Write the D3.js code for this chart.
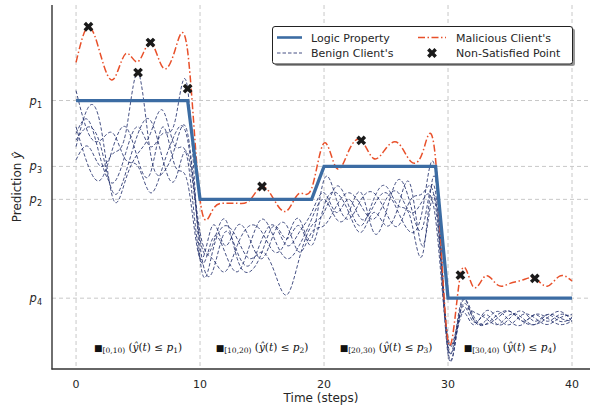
<!DOCTYPE html>
<html><head><meta charset="utf-8">
<script src="https://cdn.jsdelivr.net/npm/d3@7"></script>
<style>
body{margin:0;background:#fff;}
svg{display:block;font-family:"DejaVu Sans",sans-serif;}
</style></head>
<body>
<svg id="chart" width="590" height="406"></svg>
<script>
const timeSteps = [0,1,2,3,4,5,6,7,8,9,10,11,12,13,14,15,16,17,18,19,20,21,22,23,24,25,26,27,28,29,30,31,32,33,34,35,36,37,38,39,40];
const logicValues = [0.8,0.8,0.8,0.8,0.8,0.8,0.8,0.8,0.8,0.8, 0.5,0.5,0.5,0.5,0.5,0.5,0.5,0.5,0.5,0.5, 0.6,0.6,0.6,0.6,0.6,0.6,0.6,0.6,0.6,0.6, 0.2,0.2,0.2,0.2,0.2,0.2,0.2,0.2,0.2,0.2,0.2];
const maliciousValues = [0.916,1.024,0.936,0.864,0.942,0.918,0.976,0.90,0.955,0.95, 0.50,0.467,0.488,0.488,0.497,0.539,0.497,0.465,0.518,0.533, 0.671,0.595,0.648,0.679,0.624,0.655,0.67,0.615,0.648,0.62, 0.07,0.27,0.236,0.267,0.24,0.245,0.255,0.26,0.236,0.267,0.252];
const benign1 = [0.62,0.66,0.60,0.64,0.70,0.885,0.64,0.58,0.66,0.70, 0.36,0.28,0.40,0.34,0.30,0.38,0.42,0.36,0.40,0.46, 0.52,0.46,0.50,0.44,0.48,0.52,0.46,0.40,0.48,0.58, 0.06,0.16,0.13,0.15,0.12,0.14,0.16,0.13,0.15,0.13,0.14];
const benign2 = [0.70,0.74,0.62,0.55,0.64,0.72,0.66,0.70,0.74,0.836, 0.32,0.34,0.42,0.38,0.32,0.34,0.28,0.21,0.32,0.42, 0.46,0.54,0.48,0.42,0.50,0.54,0.48,0.44,0.34,0.56, 0.04,0.17,0.15,0.12,0.14,0.16,0.13,0.15,0.14,0.12,0.13];
const benign3 = [0.83,0.70,0.68,0.70,0.62,0.60,0.52,0.60,0.70,0.68, 0.40,0.32,0.28,0.36,0.42,0.40,0.34,0.38,0.44,0.38, 0.56,0.50,0.44,0.50,0.52,0.46,0.42,0.50,0.52,0.48, 0.08,0.14,0.16,0.14,0.12,0.15,0.14,0.12,0.15,0.14,0.13];
const benign4 = [0.66,0.78,0.72,0.50,0.56,0.64,0.70,0.77,0.66,0.62, 0.32,0.38,0.34,0.28,0.36,0.44,0.38,0.32,0.36,0.44, 0.50,0.44,0.46,0.52,0.40,0.46,0.56,0.48,0.42,0.52, 0.05,0.18,0.14,0.13,0.16,0.13,0.12,0.15,0.13,0.15,0.14];
const benign5 = [0.72,0.60,0.56,0.66,0.72,0.62,0.58,0.72,0.60,0.55, 0.32,0.42,0.36,0.42,0.38,0.32,0.40,0.42,0.34,0.40, 0.42,0.48,0.52,0.48,0.44,0.50,0.52,0.46,0.50,0.44, 0.07,0.15,0.12,0.16,0.14,0.12,0.15,0.14,0.12,0.14,0.15];
const benign6 = [0.68,0.72,0.66,0.52,0.58,0.70,0.74,0.62,0.56,0.64, 0.38,0.36,0.44,0.32,0.28,0.34,0.42,0.38,0.42,0.36, 0.48,0.52,0.46,0.40,0.46,0.42,0.48,0.54,0.36,0.50, 0.03,0.16,0.14,0.12,0.15,0.16,0.13,0.12,0.14,0.16,0.13];
const violationT = [1,5,6,9,15,23,31,37];
const violationY = [1.024,0.885,0.976,0.836,0.539,0.679,0.27,0.26];
const xTickValues = [0,10,20,30,40];
const yTickValues = [0.8,0.6,0.5,0.2];
const yTickSubs = ["1","3","2","4"];
const segmentStarts = [0,10,20,30];
const segmentLabels = ["[0,10)","[10,20)","[20,30)","[30,40)"];
const segmentProps = ["1","2","3","4"];
const legendLabels = ["Logic Property","Benign Client's","Malicious Client's","Non-Satisfied Point"];

const svg = d3.select("#chart");
const x = d3.scaleLinear().domain([-1.94, 41.37]).range([52, 589]);
const y = d3.scaleLinear().domain([-0.015, 1.09]).range([369, 5]);

const gridColor = "#c8c8c8";
svg.append("g").selectAll("line").data(xTickValues).join("line")
  .attr("x1", d => x(d)).attr("x2", d => x(d)).attr("y1", 5).attr("y2", 369)
  .attr("stroke", gridColor).attr("stroke-width", 1).attr("stroke-dasharray", "4,3");
svg.append("g").selectAll("line").data(yTickValues).join("line")
  .attr("x1", 52).attr("x2", 589).attr("y1", d => y(d)).attr("y2", d => y(d))
  .attr("stroke", gridColor).attr("stroke-width", 1).attr("stroke-dasharray", "4,3");

const benignAll = [benign1, benign2, benign3, benign4, benign5, benign6];
const lineCurve = d3.line().x((d,i) => x(timeSteps[i])).y(d => y(d)).curve(d3.curveNatural);
const lineLin = d3.line().x((d,i) => x(timeSteps[i])).y(d => y(d));

svg.append("defs").append("clipPath").attr("id","clip").append("rect")
  .attr("x",52).attr("y",0).attr("width",538).attr("height",369);
const plot = svg.append("g").attr("clip-path","url(#clip)");

plot.selectAll("path.benign").data(benignAll).join("path")
  .attr("class","benign").attr("d", d => lineCurve(d))
  .attr("fill","none").attr("stroke","#26336e").attr("stroke-opacity",0.85)
  .attr("stroke-width",1).attr("stroke-dasharray","3.5,2");

plot.append("path").attr("d", lineCurve(maliciousValues))
  .attr("fill","none").attr("stroke","#e8502a").attr("stroke-width",1.5)
  .attr("stroke-dasharray","7,2.5,1.5,2.5");

plot.append("path").attr("d", lineLin(logicValues))
  .attr("fill","none").attr("stroke","#3c6ca3").attr("stroke-width",3.3);

const xSym = d3.symbol().type(d3.symbolCross).size(60);
plot.selectAll("path.viol").data(violationT).join("path")
  .attr("class","viol").attr("d", xSym)
  .attr("transform", (d,i) => `translate(${x(d)},${y(violationY[i])}) rotate(45)`)
  .attr("fill","#1a1a1a");

svg.append("line").attr("x1",52).attr("x2",52).attr("y1",5).attr("y2",369.5).attr("stroke","#333").attr("stroke-width",1.4);
svg.append("line").attr("x1",51.5).attr("x2",590).attr("y1",369).attr("y2",369).attr("stroke","#333").attr("stroke-width",1.4);

svg.append("g").selectAll("text").data(xTickValues).join("text")
  .attr("x", d => x(d)).attr("y", 388).attr("text-anchor","middle")
  .attr("font-size",11).attr("fill","#262626").text(d => d);
svg.append("text").attr("x", 321).attr("y", 402).attr("text-anchor","middle")
  .attr("font-size",12).attr("fill","#262626").text("Time (steps)");

const yt = svg.append("g").selectAll("text").data(yTickValues).join("text")
  .attr("x", 42).attr("y", d => y(d) + 4).attr("text-anchor","end")
  .attr("font-size",11.5).attr("fill","#262626");
yt.append("tspan").attr("font-style","italic").text("p");
yt.append("tspan").attr("font-size",8).attr("dy",3).text((d,i) => yTickSubs[i]);

const ylab = svg.append("text").attr("transform","translate(21,187) rotate(-90)")
  .attr("text-anchor","middle").attr("font-size",12).attr("fill","#262626");
ylab.append("tspan").text("Prediction ");
ylab.append("tspan").attr("font-style","italic").text("ŷ");

const ann = svg.append("g").selectAll("text").data(segmentStarts).join("text")
  .attr("x", d => x(d + 5)).attr("y", 351).attr("text-anchor","middle")
  .attr("font-family","'DejaVu Serif', serif").attr("font-size",10.5).attr("fill","#111");
ann.append("tspan").attr("font-family","'DejaVu Sans'").attr("font-size",9).text("■");
ann.append("tspan").attr("font-size",7.5).attr("dy",2).text((d,i) => segmentLabels[i]);
ann.append("tspan").attr("dy",-2).text(" (");
ann.append("tspan").attr("font-style","italic").text("ŷ");
ann.append("tspan").text("(");
ann.append("tspan").attr("font-style","italic").text("t");
ann.append("tspan").text(") ≤ ");
ann.append("tspan").attr("font-style","italic").text("p");
ann.append("tspan").attr("font-size",7.5).attr("dy",2).text((d,i) => segmentProps[i]);
ann.append("tspan").attr("dy",-2).text(")");

const lg = svg.append("g");
lg.append("rect").attr("x",275).attr("y",28.5).attr("width",300).attr("height",37.5).attr("rx",2.5)
  .attr("fill","#555").attr("opacity",0.6);
lg.append("rect").attr("x",272.5).attr("y",26.5).attr("width",300).attr("height",37.5).attr("rx",2.5)
  .attr("fill","#fff").attr("stroke","#222").attr("stroke-width",1);
lg.append("line").attr("x1",277).attr("x2",302).attr("y1",37.5).attr("y2",37.5)
  .attr("stroke","#3c6ca3").attr("stroke-width",2.6);
lg.append("line").attr("x1",277).attr("x2",302).attr("y1",53).attr("y2",53)
  .attr("stroke","#26336e").attr("stroke-opacity",0.85).attr("stroke-width",1).attr("stroke-dasharray","3.5,2");
lg.append("line").attr("x1",418).attr("x2",446).attr("y1",37.5).attr("y2",37.5)
  .attr("stroke","#e8502a").attr("stroke-width",1.5).attr("stroke-dasharray","7,2.5,1.5,2.5");
lg.append("path").attr("d", xSym).attr("transform","translate(432,53) rotate(45)").attr("fill","#1a1a1a");
const lpos = [[311,41.5],[311,57],[456,41.5],[456,57]];
lg.selectAll("text").data(legendLabels).join("text")
  .attr("x",(d,i)=>lpos[i][0]).attr("y",(d,i)=>lpos[i][1])
  .attr("font-size",11).attr("fill","#262626").text(d=>d);
</script>
</body></html>
